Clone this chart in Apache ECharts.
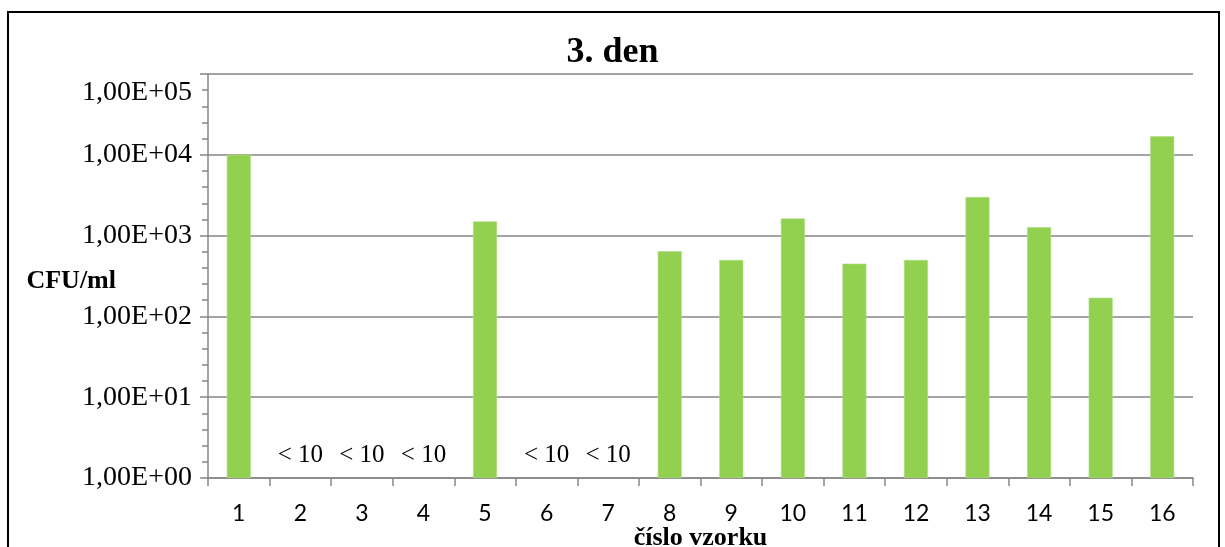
<!DOCTYPE html>
<html>
<head>
<meta charset="utf-8">
<title>3. den</title>
<script src="https://cdn.jsdelivr.net/npm/echarts@6/dist/echarts.min.js"></script>
<style>
  html, body { margin: 0; padding: 0; background: #ffffff; }
  #chart { width: 1225px; height: 547px; }
</style>
</head>
<body>
<div id="chart"></div>
<script>
// Sample numbers along the x axis
const samples = ['1', '2', '3', '4', '5', '6', '7', '8', '9', '10', '11', '12', '13', '14', '15', '16'];
// Colony counts (CFU/ml); null where the count was below the detection limit
const cfu = [10000, null, null, null, 1500, null, null, 640, 500, 1630, 450, 500, 3000, 1270, 170, 17000];
// Notes written for samples below the detection limit
const belowLimit = ['', '< 10', '< 10', '< 10', '', '< 10', '< 10', '', '', '', '', '', '', '', '', ''];
// Detection-limit baseline (10^0) used to anchor the notes
const baseline = 1;
// Log axis range
const yMin = 1;
const yMax = 100000;

const serif = '"Liberation Serif", "Times New Roman", serif';
const sans = 'Lato, "Open Sans", sans-serif';
const axisGray = '#868686';

function sciLabel(v) {
  const parts = Number(v).toExponential(2).split('e');
  const mant = parts[0].replace('.', ',');
  const exp = parseInt(parts[1], 10);
  const sign = exp < 0 ? '-' : '+';
  return mant + 'E' + sign + String(Math.abs(exp)).padStart(2, '0');
}

const chart = echarts.init(document.getElementById('chart'), null, { renderer: 'canvas' });

chart.setOption({
  backgroundColor: '#ffffff',
  animation: false,
  title: {
    text: '3. den',
    left: 'center',
    top: 35,
    padding: 0,
    textStyle: { fontFamily: serif, fontWeight: 'bold', fontSize: 36, color: '#000000' }
  },
  graphic: [{
    type: 'rect',
    silent: true,
    shape: { x: 8, y: 12, width: 1211, height: 600 },
    style: { fill: 'none', stroke: '#000000', lineWidth: 2 }
  }],
  grid: { left: 208, right: 32, top: 74, bottom: 69, containLabel: false, outerBoundsMode: 'none' },
  xAxis: {
    type: 'category',
    data: samples,
    boundaryGap: true,
    name: 'číslo vzorku',
    nameLocation: 'middle',
    nameGap: 47,
    nameMoveOverlap: false,
    nameTextStyle: { fontFamily: serif, fontWeight: 'bold', fontSize: 26, color: '#000000' },
    axisLine: { show: true, lineStyle: { color: axisGray, width: 1.5 } },
    axisTick: { show: true, alignWithLabel: false, length: 8, lineStyle: { color: axisGray, width: 1.5 } },
    axisLabel: { margin: 24, fontFamily: sans, fontSize: 23, color: '#000000' },
    splitLine: { show: false }
  },
  yAxis: [{
    type: 'log',
    logBase: 10,
    min: yMin,
    max: yMax,
    splitNumber: 5,
    name: '{u|CFU/ml}',
    nameLocation: 'middle',
    nameRotate: 0,
    nameGap: 92,
    nameMoveOverlap: false,
    nameTextStyle: {
      fontFamily: serif, fontWeight: 'bold', fontSize: 26, color: '#000000', align: 'right',
      rich: {
        u: { fontFamily: serif, fontWeight: 'bold', fontSize: 26, color: '#000000', padding: [10, 0, 0, 0] }
      }
    },
    axisLine: { show: true, lineStyle: { color: axisGray, width: 1.5 } },
    axisTick: { show: false },
    axisLabel: {
      margin: 16,
      fontFamily: serif,
      fontSize: 28,
      color: '#000000',
      formatter: function (v) {
        const txt = sciLabel(v);
        return v >= yMax ? '{top|' + txt + '}' : txt;
      },
      rich: {
        top: { fontFamily: serif, fontSize: 28, color: '#000000', padding: [38, 0, 0, 0] }
      }
    },
    splitLine: { show: true, lineStyle: { color: axisGray, width: 1.5 } }
  }, {
    // decade ticks with evenly spaced minor ticks along the left edge
    type: 'value',
    position: 'left',
    min: 0,
    max: 5,
    interval: 1,
    axisLine: { show: false },
    axisLabel: { show: false },
    splitLine: { show: false },
    axisTick: { show: true, length: 8, lineStyle: { color: axisGray, width: 1.5 } },
    minorTick: { show: true, splitNumber: 5, length: 6, lineStyle: { color: axisGray, width: 1.5 } }
  }],
  series: [{
    name: 'CFU/ml',
    type: 'bar',
    yAxisIndex: 0,
    data: cfu,
    barWidth: 24,
    itemStyle: { color: '#92D050', borderColor: '#b2de86', borderWidth: 0.6 }
  }, {
    name: 'pod limitem',
    type: 'bar',
    yAxisIndex: 0,
    barWidth: 24,
    barGap: '-100%',
    data: belowLimit.map(function (t) { return t ? baseline : null; }),
    itemStyle: { color: 'rgba(0,0,0,0)' },
    label: {
      show: true,
      position: 'top',
      distance: 10,
      fontFamily: serif,
      fontSize: 25,
      color: '#000000',
      formatter: function (p) { return belowLimit[p.dataIndex]; }
    }
  }]
});
</script>
</body>
</html>
